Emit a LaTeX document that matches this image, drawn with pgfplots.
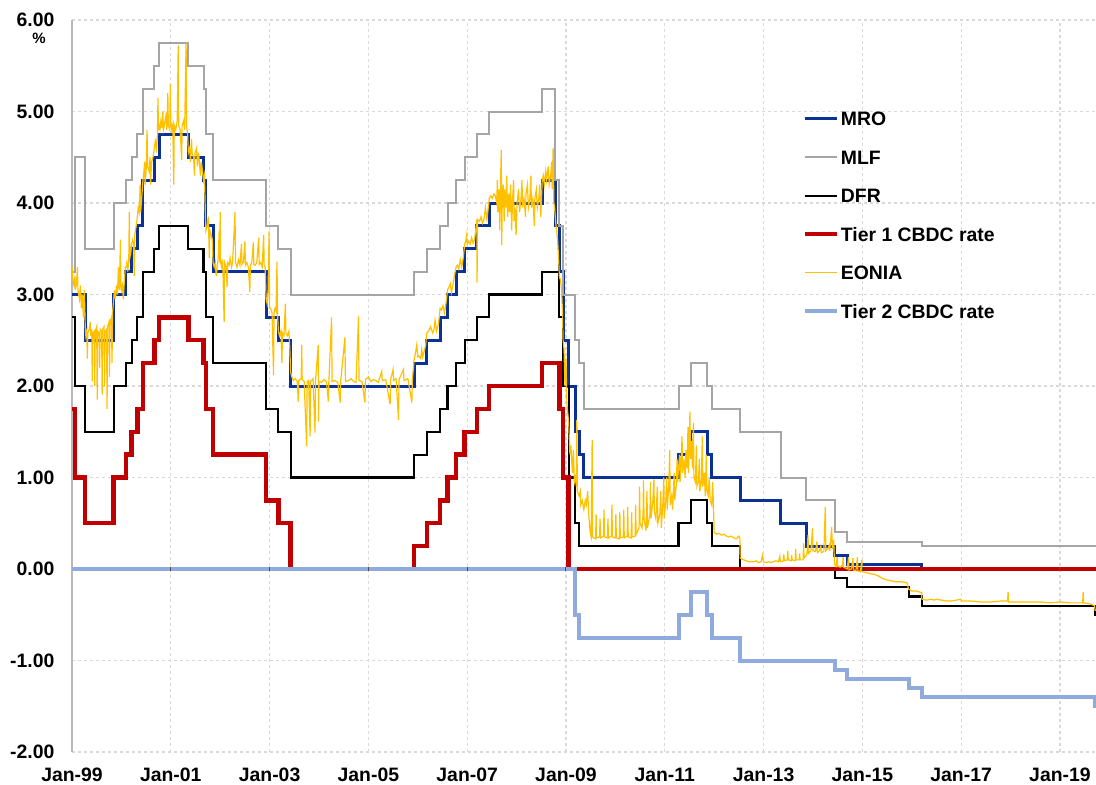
\documentclass[border=0pt]{standalone}
\usepackage{fontspec}
\setmainfont{Liberation Sans}
\usepackage{pgfplots}
\usepackage{pgfplotstable}
\pgfplotsset{compat=1.18}
\definecolor{mrocol}{RGB}{10,50,150}
\definecolor{mlfcol}{RGB}{165,165,165}
\definecolor{tieronecol}{RGB}{192,0,0}
\definecolor{eoniacol}{RGB}{255,192,0}
\definecolor{tiertwocol}{RGB}{143,170,220}

\pgfplotstableread{
x y
1999.000 3.00
1999.268 2.50
1999.844 3.00
2000.093 3.25
2000.208 3.50
2000.323 3.75
2000.437 4.25
2000.667 4.50
2000.762 4.75
2001.356 4.50
2001.663 4.25
2001.712 3.75
2001.855 3.25
2002.929 2.75
2003.178 2.50
2003.427 2.00
2005.929 2.25
2006.181 2.50
2006.452 2.75
2006.603 3.00
2006.775 3.25
2006.948 3.50
2007.197 3.75
2007.447 4.00
2008.519 4.25
2008.789 3.75
2008.866 3.25
2008.942 2.50
2009.055 2.00
2009.189 1.50
2009.266 1.25
2009.362 1.00
2011.279 1.25
2011.529 1.50
2011.855 1.25
2011.951 1.00
2012.526 0.75
2013.348 0.50
2013.866 0.25
2014.441 0.15
2014.693 0.05
2016.205 0.00
2019.800 0.00
}\mro

\pgfplotstableread{
x y
1999.000 3.25
1999.058 4.50
1999.268 3.50
1999.844 4.00
2000.093 4.25
2000.208 4.50
2000.323 4.75
2000.437 5.25
2000.667 5.50
2000.762 5.75
2001.356 5.50
2001.663 5.25
2001.712 4.75
2001.855 4.25
2002.929 3.75
2003.178 3.50
2003.427 3.00
2005.929 3.25
2006.181 3.50
2006.452 3.75
2006.603 4.00
2006.775 4.25
2006.948 4.50
2007.197 4.75
2007.447 5.00
2008.519 5.25
2008.773 4.25
2008.866 3.75
2008.942 3.00
2009.189 2.50
2009.266 2.25
2009.362 1.75
2011.279 2.00
2011.529 2.25
2011.855 2.00
2011.951 1.75
2012.526 1.50
2013.348 1.00
2013.866 0.75
2014.441 0.40
2014.693 0.30
2016.205 0.25
2019.800 0.25
}\mlf

\pgfplotstableread{
x y
1999.000 2.75
1999.058 2.00
1999.268 1.50
1999.844 2.00
2000.093 2.25
2000.208 2.50
2000.323 2.75
2000.437 3.25
2000.667 3.50
2000.762 3.75
2001.356 3.50
2001.663 3.25
2001.712 2.75
2001.855 2.25
2002.929 1.75
2003.178 1.50
2003.427 1.00
2005.929 1.25
2006.181 1.50
2006.452 1.75
2006.603 2.00
2006.775 2.25
2006.948 2.50
2007.197 2.75
2007.447 3.00
2008.519 3.25
2008.866 2.75
2008.942 2.00
2009.055 1.00
2009.189 0.50
2009.266 0.25
2011.279 0.50
2011.529 0.75
2011.855 0.50
2011.951 0.25
2012.526 0.00
2014.441 -0.10
2014.693 -0.20
2015.937 -0.30
2016.205 -0.40
2019.712 -0.50
2019.800 -0.50
}\dfr

\pgfplotstableread{
x y
1999.000 1.75
1999.058 1.00
1999.268 0.50
1999.844 1.00
2000.093 1.25
2000.208 1.50
2000.323 1.75
2000.437 2.25
2000.667 2.50
2000.762 2.75
2001.356 2.50
2001.663 2.25
2001.712 1.75
2001.855 1.25
2002.929 0.75
2003.178 0.50
2003.427 0.00
2005.929 0.25
2006.181 0.50
2006.452 0.75
2006.603 1.00
2006.775 1.25
2006.948 1.50
2007.197 1.75
2007.447 2.00
2008.519 2.25
2008.866 1.75
2008.942 1.00
2009.055 0.00
2019.800 0.00
}\tierone

\pgfplotstableread{
x y
1999.000 0.00
2009.189 -0.50
2009.266 -0.75
2011.279 -0.50
2011.529 -0.25
2011.855 -0.50
2011.951 -0.75
2012.526 -1.00
2014.441 -1.10
2014.693 -1.20
2015.937 -1.30
2016.205 -1.40
2019.712 -1.50
2019.800 -1.50
}\tiertwo

\pgfplotstableread{
x y
1999.000 3.24
1999.010 3.30
1999.020 3.15
1999.040 3.10
1999.060 3.20
1999.070 3.05
1999.090 3.12
1999.110 3.30
1999.120 3.05
1999.150 2.95
1999.170 3.10
1999.190 2.85
1999.210 3.00
1999.230 2.75
1999.250 3.05
1999.268 2.65
1999.280 2.55
1999.300 2.60
1999.310 2.30
1999.320 2.58
1999.350 2.62
1999.370 2.70
1999.380 2.55
1999.400 2.62
1999.410 2.05
1999.420 2.58
1999.450 2.60
1999.460 2.00
1999.470 2.60
1999.500 2.65
1999.510 1.85
1999.520 2.60
1999.550 2.58
1999.560 2.20
1999.570 2.62
1999.600 2.60
1999.610 1.90
1999.620 2.62
1999.650 2.65
1999.660 2.00
1999.670 2.60
1999.700 2.62
1999.710 1.75
1999.720 2.65
1999.750 2.70
1999.760 2.10
1999.770 2.70
1999.800 2.75
1999.810 2.25
1999.820 2.80
1999.844 2.95
1999.860 3.05
1999.880 2.95
1999.900 3.10
1999.920 3.00
1999.940 3.30
1999.960 3.05
1999.980 3.60
1999.990 3.10
2000.000 3.05
2000.020 3.10
2000.040 2.95
2000.060 3.15
2000.080 3.30
2000.093 3.30
2000.110 3.35
2000.130 3.25
2000.150 3.40
2000.160 3.90
2000.170 3.40
2000.190 3.45
2000.208 3.55
2000.230 3.60
2000.250 3.55
2000.260 3.20
2000.270 3.65
2000.300 3.75
2000.323 3.85
2000.340 3.95
2000.360 3.90
2000.380 4.20
2000.390 3.90
2000.410 4.05
2000.437 4.25
2000.450 4.30
2000.470 4.45
2000.480 4.20
2000.500 4.35
2000.520 4.80
2000.530 4.40
2000.560 4.35
2000.580 4.50
2000.590 4.20
2000.610 4.45
2000.640 4.50
2000.667 4.60
2000.690 4.70
2000.710 4.55
2000.730 4.75
2000.740 5.15
2000.750 4.80
2000.762 4.85
2000.780 4.80
2000.800 4.90
2000.820 4.82
2000.840 5.00
2000.850 4.80
2000.870 4.85
2000.900 4.95
2000.920 4.80
2000.940 5.20
2000.950 4.85
2000.980 4.80
2000.990 5.30
2001.000 4.90
2001.020 4.80
2001.040 4.85
2001.060 4.20
2001.070 4.85
2001.100 4.80
2001.130 4.90
2001.150 5.72
2001.160 4.85
2001.190 4.80
2001.220 4.47
2001.230 4.85
2001.260 4.90
2001.280 4.80
2001.310 5.75
2001.320 4.85
2001.340 4.75
2001.356 4.55
2001.380 4.60
2001.400 4.45
2001.420 4.70
2001.430 4.55
2001.460 4.50
2001.480 4.30
2001.490 4.55
2001.520 4.60
2001.540 4.40
2001.560 4.55
2001.580 4.45
2001.600 4.30
2001.620 4.45
2001.640 4.35
2001.663 4.25
2001.680 4.30
2001.700 3.90
2001.712 3.70
2001.740 3.75
2001.760 3.85
2001.780 3.40
2001.790 3.70
2001.820 3.65
2001.840 3.60
2001.855 3.35
2001.880 3.30
2001.900 3.35
2001.920 3.20
2001.940 3.30
2001.960 3.40
2001.980 3.70
2001.990 3.35
2002.000 3.90
2002.010 3.35
2002.030 3.30
2002.050 3.38
2002.080 2.70
2002.090 3.35
2002.120 3.30
2002.140 3.08
2002.150 3.35
2002.180 3.32
2002.200 3.40
2002.230 3.30
2002.250 3.35
2002.300 3.90
2002.310 3.35
2002.340 3.30
2002.370 3.38
2002.400 3.32
2002.430 3.55
2002.440 3.33
2002.470 3.35
2002.500 3.58
2002.510 3.32
2002.540 3.35
2002.570 3.30
2002.600 3.03
2002.610 3.32
2002.640 3.35
2002.670 3.57
2002.680 3.33
2002.710 3.32
2002.740 3.35
2002.780 3.62
2002.790 3.33
2002.820 3.35
2002.850 3.30
2002.880 3.65
2002.890 3.32
2002.910 3.30
2002.929 2.95
2002.950 2.90
2002.970 3.05
2002.990 3.69
2003.000 2.85
2003.020 2.85
2003.050 2.80
2003.080 2.12
2003.090 2.80
2003.110 2.85
2003.130 2.82
2003.150 3.36
2003.160 2.80
2003.178 2.60
2003.200 2.55
2003.230 2.60
2003.250 2.25
2003.260 2.58
2003.290 2.55
2003.320 2.90
2003.330 2.58
2003.360 2.55
2003.390 2.60
2003.410 2.40
2003.427 2.15
2003.450 2.10
2003.480 2.06
2003.520 2.08
2003.560 2.05
2003.580 1.83
2003.590 2.06
2003.640 2.08
2003.650 2.45
2003.660 2.07
2003.700 2.05
2003.750 1.34
2003.760 2.05
2003.790 2.06
2003.820 1.45
2003.830 2.05
2003.880 2.08
2003.920 1.49
2003.930 2.06
2003.985 2.45
2003.990 1.61
2004.000 2.05
2004.050 2.04
2004.100 2.07
2004.150 2.05
2004.190 1.83
2004.200 2.05
2004.255 2.75
2004.265 2.05
2004.320 2.06
2004.380 2.04
2004.430 1.82
2004.440 2.06
2004.525 2.53
2004.535 2.05
2004.600 2.06
2004.650 2.08
2004.700 2.05
2004.750 2.04
2004.800 2.76
2004.810 2.06
2004.870 2.05
2004.930 1.82
2004.940 2.07
2005.000 2.10
2005.050 2.05
2005.100 2.07
2005.150 2.06
2005.200 2.04
2005.270 2.16
2005.280 2.06
2005.350 2.07
2005.440 1.80
2005.450 2.07
2005.500 2.18
2005.510 2.06
2005.560 2.08
2005.610 1.63
2005.620 2.07
2005.710 2.18
2005.720 2.06
2005.800 2.08
2005.880 1.82
2005.890 2.07
2005.929 2.30
2005.950 2.35
2005.980 2.45
2006.000 2.32
2006.020 2.33
2006.060 2.30
2006.080 2.40
2006.100 2.32
2006.140 2.40
2006.160 2.45
2006.181 2.58
2006.220 2.60
2006.260 2.65
2006.300 2.58
2006.330 2.62
2006.350 2.72
2006.380 2.60
2006.420 2.68
2006.452 2.85
2006.480 2.83
2006.510 2.88
2006.540 2.80
2006.570 2.90
2006.603 3.05
2006.630 3.08
2006.660 3.12
2006.680 3.02
2006.710 3.10
2006.740 3.20
2006.775 3.30
2006.800 3.32
2006.830 3.28
2006.860 3.38
2006.890 3.30
2006.920 3.40
2006.948 3.55
2006.970 3.58
2006.990 3.65
2007.000 3.55
2007.030 3.58
2007.060 3.55
2007.090 3.62
2007.120 3.56
2007.150 3.60
2007.197 3.82
2007.200 3.13
2007.210 3.82
2007.250 3.80
2007.280 3.85
2007.310 3.78
2007.340 3.82
2007.370 3.95
2007.400 3.82
2007.447 4.05
2007.480 4.08
2007.510 4.05
2007.540 4.10
2007.570 4.08
2007.600 4.00
2007.610 4.25
2007.620 3.90
2007.640 4.15
2007.660 3.70
2007.670 4.10
2007.690 4.58
2007.700 3.54
2007.710 4.05
2007.730 4.20
2007.750 3.80
2007.760 4.15
2007.790 3.95
2007.800 4.30
2007.820 3.85
2007.840 4.10
2007.860 3.90
2007.880 4.20
2007.900 3.70
2007.920 4.05
2007.940 4.25
2007.950 3.80
2007.970 3.95
2007.990 3.65
2008.010 4.00
2008.040 4.15
2008.060 3.90
2008.090 4.05
2008.110 4.25
2008.120 3.95
2008.150 4.05
2008.180 3.85
2008.190 4.10
2008.220 4.20
2008.240 3.95
2008.270 4.05
2008.290 4.30
2008.300 3.95
2008.330 4.05
2008.360 3.75
2008.370 4.05
2008.400 4.15
2008.420 3.95
2008.450 4.05
2008.470 4.20
2008.490 3.85
2008.519 4.25
2008.540 4.30
2008.560 4.20
2008.590 4.35
2008.610 4.25
2008.640 4.40
2008.660 4.20
2008.690 4.30
2008.710 4.45
2008.720 4.15
2008.740 4.60
2008.755 4.00
2008.770 3.95
2008.790 3.80
2008.810 3.70
2008.830 3.60
2008.850 3.40
2008.866 3.20
2008.890 3.15
2008.910 3.05
2008.930 2.80
2008.942 2.50
2008.960 2.40
2008.980 2.00
2009.000 2.30
2009.020 1.80
2009.055 1.60
2009.080 1.25
2009.100 1.35
2009.130 1.05
2009.150 1.30
2009.170 0.95
2009.189 1.00
2009.210 0.90
2009.220 1.63
2009.230 0.85
2009.266 0.80
2009.290 0.85
2009.300 0.70
2009.330 0.75
2009.362 0.65
2009.390 0.75
2009.410 0.70
2009.440 0.85
2009.460 0.60
2009.490 0.40
2009.510 0.35
2009.530 1.41
2009.540 0.35
2009.560 0.34
2009.600 0.33
2009.610 0.60
2009.620 0.34
2009.680 0.35
2009.690 0.55
2009.700 0.34
2009.760 0.36
2009.770 0.65
2009.780 0.35
2009.840 0.34
2009.850 0.55
2009.860 0.34
2009.920 0.36
2009.930 0.70
2009.940 0.35
2010.000 0.34
2010.010 0.60
2010.020 0.34
2010.080 0.33
2010.090 0.62
2010.100 0.34
2010.160 0.35
2010.170 0.65
2010.180 0.34
2010.240 0.36
2010.250 0.68
2010.260 0.35
2010.320 0.34
2010.330 0.62
2010.340 0.35
2010.400 0.36
2010.410 0.70
2010.420 0.38
2010.480 0.45
2010.490 0.90
2010.500 0.50
2010.540 0.45
2010.560 0.60
2010.570 0.97
2010.580 0.55
2010.620 0.42
2010.640 0.85
2010.650 0.45
2010.700 0.60
2010.710 0.95
2010.720 0.55
2010.760 0.75
2010.780 0.98
2010.790 0.62
2010.820 0.55
2010.850 0.90
2010.860 0.50
2010.900 0.60
2010.920 0.85
2010.930 0.45
2010.960 0.70
2010.980 1.00
2010.990 0.55
2011.020 0.75
2011.040 1.00
2011.050 0.65
2011.080 0.90
2011.100 1.30
2011.110 0.70
2011.140 0.80
2011.160 0.65
2011.190 1.05
2011.200 0.75
2011.230 0.90
2011.250 1.20
2011.260 0.95
2011.279 1.10
2011.300 1.25
2011.310 0.95
2011.330 1.15
2011.350 1.45
2011.360 1.05
2011.390 1.20
2011.410 1.00
2011.430 1.30
2011.450 1.10
2011.470 1.55
2011.480 1.05
2011.510 1.72
2011.520 1.20
2011.540 1.40
2011.560 1.10
2011.580 1.60
2011.590 1.00
2011.620 0.95
2011.640 1.35
2011.650 0.90
2011.680 0.95
2011.700 1.20
2011.710 0.85
2011.740 0.95
2011.760 1.45
2011.770 0.90
2011.800 1.05
2011.820 0.80
2011.840 1.25
2011.855 0.85
2011.880 0.80
2011.900 1.00
2011.920 0.75
2011.951 0.70
2011.970 0.95
2011.990 0.60
2012.000 0.40
2012.050 0.38
2012.100 0.39
2012.150 0.37
2012.200 0.38
2012.250 0.36
2012.300 0.35
2012.350 0.36
2012.400 0.34
2012.450 0.33
2012.500 0.36
2012.520 0.34
2012.526 0.12
2012.560 0.11
2012.600 0.10
2012.650 0.09
2012.700 0.08
2012.750 0.08
2012.800 0.08
2012.850 0.09
2012.900 0.07
2012.950 0.08
2012.980 0.15
2013.000 0.08
2013.050 0.07
2013.100 0.08
2013.150 0.07
2013.200 0.08
2013.250 0.09
2013.300 0.08
2013.330 0.14
2013.340 0.08
2013.400 0.09
2013.410 0.16
2013.420 0.09
2013.480 0.10
2013.490 0.20
2013.500 0.10
2013.560 0.09
2013.570 0.15
2013.580 0.10
2013.640 0.09
2013.650 0.22
2013.660 0.10
2013.720 0.10
2013.730 0.17
2013.740 0.10
2013.800 0.10
2013.810 0.28
2013.820 0.12
2013.866 0.15
2013.880 0.18
2013.900 0.37
2013.910 0.17
2013.960 0.20
2013.990 0.45
2014.000 0.20
2014.050 0.19
2014.080 0.30
2014.090 0.18
2014.130 0.20
2014.160 0.25
2014.170 0.18
2014.220 0.19
2014.250 0.68
2014.260 0.20
2014.300 0.22
2014.330 0.26
2014.340 0.20
2014.380 0.46
2014.390 0.22
2014.420 0.32
2014.430 0.15
2014.441 0.05
2014.470 0.03
2014.490 0.13
2014.500 0.03
2014.550 0.02
2014.600 0.04
2014.610 0.13
2014.620 0.02
2014.660 0.01
2014.693 0.00
2014.720 0.13
2014.730 -0.01
2014.780 0.00
2014.810 0.12
2014.820 -0.01
2014.870 -0.02
2014.900 0.13
2014.910 -0.02
2014.960 -0.03
2014.990 0.10
2015.000 -0.03
2015.080 -0.04
2015.150 -0.05
2015.250 -0.06
2015.300 -0.07
2015.400 -0.10
2015.500 -0.12
2015.600 -0.13
2015.700 -0.14
2015.800 -0.14
2015.900 -0.15
2015.937 -0.22
2016.000 -0.24
2016.100 -0.24
2016.200 -0.26
2016.205 -0.33
2016.300 -0.34
2016.400 -0.33
2016.450 -0.34
2016.500 -0.33
2016.600 -0.34
2016.700 -0.35
2016.800 -0.35
2016.900 -0.34
2016.990 -0.33
2017.000 -0.35
2017.200 -0.35
2017.400 -0.36
2017.600 -0.36
2017.800 -0.35
2017.940 -0.35
2017.950 -0.25
2017.960 -0.36
2018.200 -0.36
2018.400 -0.36
2018.600 -0.36
2018.800 -0.37
2018.990 -0.36
2019.000 -0.36
2019.200 -0.37
2019.400 -0.37
2019.460 -0.37
2019.470 -0.25
2019.480 -0.37
2019.600 -0.38
2019.700 -0.40
2019.712 -0.45
2019.800 -0.46
}\eonia

\begin{document}
\begin{tikzpicture}
\useasboundingbox (-36pt,-16pt) rectangle (512pt,376pt);
\begin{axis}[
  at={(0pt,0pt)}, anchor=south west,
  scale only axis, width=512pt, height=366pt,
  xmin=0, xmax=20.73, ymin=-2, ymax=6,
  axis x line*=bottom, axis y line*=left,
  x axis line style={draw=none},
  y axis line style={draw=gray!55, line width=0.6pt},
  major tick length=0pt,
  xtick={0,2,4,6,8,10,12,14,16,18,20},
  xticklabels={Jan-99,Jan-01,Jan-03,Jan-05,Jan-07,Jan-09,Jan-11,Jan-13,Jan-15,Jan-17,Jan-19},
  ytick={-2,-1,0,1,2,3,4,5,6},
  yticklabels={-2.00,-1.00,0.00,1.00,2.00,3.00,4.00,5.00,6.00},
  tick label style={font=\fontsize{9.7}{11.6}\selectfont\bfseries},
  x tick label style={yshift=-4.5pt},
  y tick label style={xshift=-5.3pt},
  grid=major,
  grid style={gray!30, dash pattern=on 1.5pt off 1.5pt, line width=0.6pt},
  legend style={at={(0.713,0.878)}, anchor=north west, draw=none, fill=none,
    font=\fontsize{9.7}{11.6}\selectfont\bfseries, row sep=10.25pt, inner sep=0pt,
    nodes={inner sep=1pt, text height=7pt, text depth=0pt, anchor=west}},
  legend cell align=left,
  legend image code/.code={\draw[#1] (0pt,0pt) -- (16pt,0pt);},
]
\addplot[const plot, color=mrocol, line width=1.5pt] table[x expr=\thisrow{x}-1999, y=y] {\mro};
\addlegendentry{MRO}
\addplot[const plot, color=mlfcol, line width=1pt] table[x expr=\thisrow{x}-1999, y=y] {\mlf};
\addlegendentry{MLF}
\addplot[const plot, color=black, line width=1.1pt] table[x expr=\thisrow{x}-1999, y=y] {\dfr};
\addlegendentry{DFR}
\addplot[const plot, color=tieronecol, line width=2.2pt] table[x expr=\thisrow{x}-1999, y=y] {\tierone};
\addlegendentry{Tier 1 CBDC rate}
\addplot[sharp plot, color=eoniacol, line width=0.6pt] table[x expr=\thisrow{x}-1999, y=y] {\eonia};
\addlegendentry{EONIA}
\addplot[const plot, color=tiertwocol, line width=2pt] table[x expr=\thisrow{x}-1999, y=y] {\tiertwo};
\addlegendentry{Tier 2 CBDC rate}
\draw[gray!60!black, line width=0.5pt] (axis cs:2,-0.025) -- (axis cs:2,0.025);
\draw[gray!60!black, line width=0.5pt] (axis cs:4,-0.025) -- (axis cs:4,0.025);
\draw[gray!60!black, line width=0.5pt] (axis cs:6,-0.025) -- (axis cs:6,0.025);
\draw[gray!60!black, line width=0.5pt] (axis cs:8,-0.025) -- (axis cs:8,0.025);
\draw[gray!60!black, line width=0.5pt] (axis cs:10,-0.025) -- (axis cs:10,0.025);
\draw[gray!60!black, line width=0.5pt] (axis cs:12,-0.025) -- (axis cs:12,0.025);
\draw[gray!60!black, line width=0.5pt] (axis cs:14,-0.025) -- (axis cs:14,0.025);
\draw[gray!60!black, line width=0.5pt] (axis cs:16,-0.025) -- (axis cs:16,0.025);
\draw[gray!60!black, line width=0.5pt] (axis cs:18,-0.025) -- (axis cs:18,0.025);
\draw[gray!60!black, line width=0.5pt] (axis cs:20,-0.025) -- (axis cs:20,0.025);
\end{axis}
\node[font=\fontsize{7.5}{9}\selectfont\bfseries] at ([xshift=-16.5pt,yshift=-9pt]current axis.north west) {\%};
\end{tikzpicture}
\end{document}
